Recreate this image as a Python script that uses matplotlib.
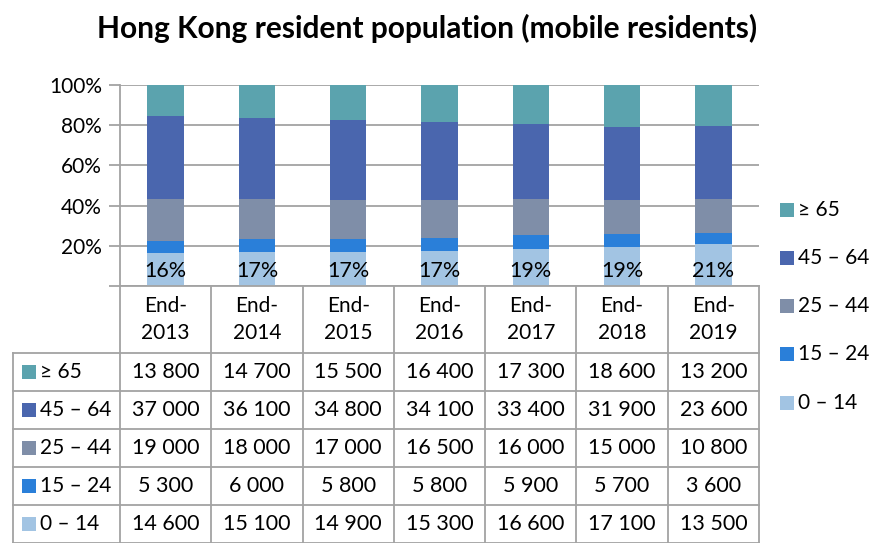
import numpy as np
import matplotlib
matplotlib.use('Agg')
import matplotlib.pyplot as plt
from matplotlib.patches import Rectangle

plt.rcParams['font.family'] = ['Lato', 'DejaVu Sans']

# ---------------------------------------------------------------------------
# Data
# ---------------------------------------------------------------------------
years = ['End-\n2013', 'End-\n2014', 'End-\n2015', 'End-\n2016',
         'End-\n2017', 'End-\n2018', 'End-\n2019']
groups = ['≥ 65', '45 – 64', '25 – 44', '15 – 24', '0 – 14']   # table order (top -> bottom)
age_65_plus = [13800, 14700, 15500, 16400, 17300, 18600, 13200]
age_45_64   = [37000, 36100, 34800, 34100, 33400, 31900, 23600]
age_25_44   = [19000, 18000, 17000, 16500, 16000, 15000, 10800]
age_15_24   = [5300, 6000, 5800, 5800, 5900, 5700, 3600]
age_0_14    = [14600, 15100, 14900, 15300, 16600, 17100, 13500]

colors = {'≥ 65': '#5BA3AE', '45 – 64': '#4A66AE', '25 – 44': '#7F8EA8',
          '15 – 24': '#2A7FD9', '0 – 14': '#A2C4E3'}
GRID = '#A3A3A3'

series = {'≥ 65': age_65_plus, '45 – 64': age_45_64, '25 – 44': age_25_44,
          '15 – 24': age_15_24, '0 – 14': age_0_14}
totals = np.sum([np.array(v) for v in series.values()], axis=0)

# ---------------------------------------------------------------------------
# Layout (pixel based, figure 872 x 543)
# ---------------------------------------------------------------------------
W, H = 872, 543
px_l, px_r, px_top, px_bot = 120, 759, 85, 286
col_w = (px_r - px_l) / len(years)

fig = plt.figure(figsize=(W / 100, H / 100), dpi=100)
ax = fig.add_axes([px_l / W, (H - px_bot) / H, (px_r - px_l) / W, (px_bot - px_top) / H])

x = np.arange(len(years))
bottom = np.zeros(len(years))
for g in ['0 – 14', '15 – 24', '25 – 44', '45 – 64', '≥ 65']:
    share = np.array(series[g]) / totals
    ax.bar(x, share, 0.4, bottom=bottom, color=colors[g], zorder=3, linewidth=0)
    bottom += share

# percent labels of the 0 – 14 share
for xi, v in zip(x, np.array(age_0_14) / totals):
    ax.text(xi, 0.075, f'{v*100:.0f}%', ha='center', va='center',
            fontsize=15.5, color='black', zorder=4)

ax.set_xlim(-0.5, len(years) - 0.5)
ax.set_ylim(0, 1)
ax.set_yticks([0, 0.2, 0.4, 0.6, 0.8, 1.0])
ax.set_yticklabels(['', '20%', '40%', '60%', '80%', '100%'], fontsize=15)
ax.yaxis.grid(True, color=GRID, linewidth=1.3, zorder=0)
ax.set_xticks([])
ax.tick_params(axis='y', length=8, width=1.3, color=GRID, pad=5)
for side in ['top', 'right', 'bottom']:
    ax.spines[side].set_visible(False)
ax.spines['left'].set_color(GRID)
ax.spines['left'].set_linewidth(1.3)

fig.text(427 / W, 1 - 28 / H, 'Hong Kong resident population (mobile residents)',
         ha='center', va='center', fontsize=21.5, fontweight='bold')

# ---------------------------------------------------------------------------
# Data table below the chart
# ---------------------------------------------------------------------------
tab_l = 13
tab = fig.add_axes([tab_l / W, 0, (px_r - tab_l) / W, (H - px_bot) / H])
tab.set_xlim(-0.5 - (px_l - tab_l) / col_w, len(years) - 0.5)
tab.set_ylim(H, px_bot)
tab.axis('off')
x_left = -0.5 - (px_l - tab_l) / col_w
x_end = len(years) - 0.5

head_bot = 353
row_h = 38
rows_y = [head_bot + i * row_h for i in range(len(groups) + 1)]

lk = dict(color=GRID, linewidth=1.3, clip_on=False)
# horizontal lines
tab.plot([-0.5, x_end], [px_bot, px_bot], **lk)
for y in rows_y:
    tab.plot([x_left, x_end], [y, y], **lk)
# vertical lines
for i in range(len(years) + 1):
    tab.plot([i - 0.5, i - 0.5], [px_bot, H], **lk)
tab.plot([x_left, x_left], [head_bot, H], **lk)

# header
for i, lab in enumerate(years):
    tab.text(i, (px_bot + head_bot) / 2, lab, ha='center', va='center',
             fontsize=15, linespacing=1.4)

# rows
sq = 14 / col_w
for r, g in enumerate(groups):
    yc = rows_y[r] + row_h / 2
    tab.add_patch(Rectangle((x_left + 9 / col_w, yc - 7), sq, 14,
                            facecolor=colors[g], edgecolor='none'))
    tab.text(x_left + 27 / col_w, yc, g, ha='left', va='center', fontsize=15)
    for i, v in enumerate(series[g]):
        tab.text(i, yc, f'{v:,}'.replace(',', ' '), ha='center', va='center',
                 fontsize=15.5)

# ---------------------------------------------------------------------------
# Legend (right side)
# ---------------------------------------------------------------------------
leg_y = [210, 258, 306, 354, 403]
for g, y in zip(groups, leg_y):
    fig.patches.append(Rectangle((780 / W, 1 - (y + 7) / H), 14 / W, 14 / H,
                                 facecolor=colors[g], edgecolor='none',
                                 transform=fig.transFigure))
    fig.text(798 / W, 1 - y / H, g, ha='left', va='center', fontsize=15)

fig.savefig('out.png', dpi=100)
